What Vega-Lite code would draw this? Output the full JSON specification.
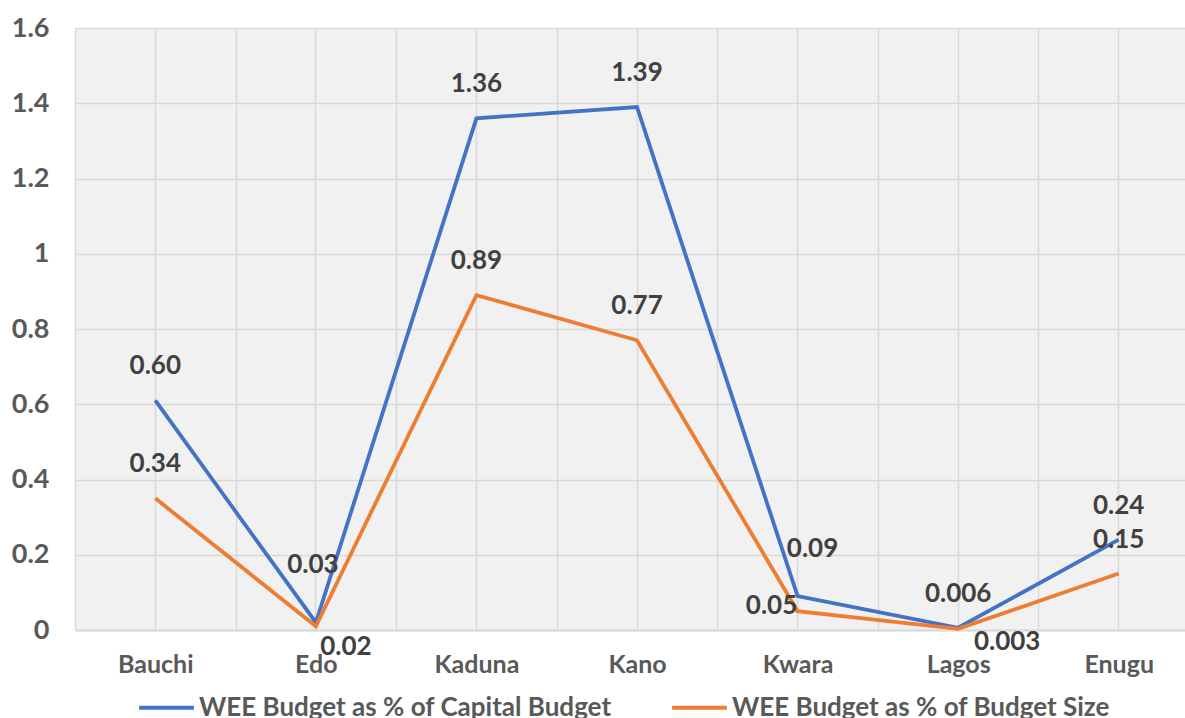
{
  "$schema": "https://vega.github.io/schema/vega-lite/v6.json",
  "autosize": "none",
  "width": 1110,
  "height": 602,
  "padding": {"left": 75, "top": 28, "right": 0, "bottom": 88},
  "background": "white",
  "config": {
    "view": {"fill": "#f1f1f1", "stroke": null},
    "font": "Lato",
    "axis": {"labelFont": "Lato", "labelFontWeight": "bold", "labelColor": "#595959", "labelFontSize": 25}
  },
  "data": {
    "values": [
      {"state": "Bauchi", "series": "WEE Budget as % of Capital Budget", "value": 0.61, "label": "0.60"},
      {"state": "Edo", "series": "WEE Budget as % of Capital Budget", "value": 0.02, "label": "0.03"},
      {"state": "Kaduna", "series": "WEE Budget as % of Capital Budget", "value": 1.36, "label": "1.36"},
      {"state": "Kano", "series": "WEE Budget as % of Capital Budget", "value": 1.39, "label": "1.39"},
      {"state": "Kwara", "series": "WEE Budget as % of Capital Budget", "value": 0.09, "label": "0.09"},
      {"state": "Lagos", "series": "WEE Budget as % of Capital Budget", "value": 0.006, "label": "0.006"},
      {"state": "Enugu", "series": "WEE Budget as % of Capital Budget", "value": 0.24, "label": "0.24"},
      {"state": "Bauchi", "series": "WEE Budget as % of Budget Size", "value": 0.35, "label": "0.34"},
      {"state": "Edo", "series": "WEE Budget as % of Budget Size", "value": 0.01, "label": "0.02"},
      {"state": "Kaduna", "series": "WEE Budget as % of Budget Size", "value": 0.89, "label": "0.89"},
      {"state": "Kano", "series": "WEE Budget as % of Budget Size", "value": 0.77, "label": "0.77"},
      {"state": "Kwara", "series": "WEE Budget as % of Budget Size", "value": 0.05, "label": "0.05"},
      {"state": "Lagos", "series": "WEE Budget as % of Budget Size", "value": 0.003, "label": "0.003"},
      {"state": "Enugu", "series": "WEE Budget as % of Budget Size", "value": 0.15, "label": "0.15"}
    ]
  },
  "encoding": {
    "x": {
      "field": "state", "type": "nominal",
      "sort": ["Bauchi", "Edo", "Kaduna", "Kano", "Kwara", "Lagos", "Enugu"],
      "bandPosition": 0.5,
      "scale": {"type": "band", "paddingInner": 0, "paddingOuter": 0, "range": [0, 1124]},
      "axis": null
    },
    "y": {
      "field": "value", "type": "quantitative",
      "scale": {"domain": [0, 1.6], "nice": false, "zero": true},
      "axis": {
        "title": null, "values": [0, 0.2, 0.4, 0.6, 0.8, 1, 1.2, 1.4, 1.6],
        "labelExpr": "format(datum.value, '~g')",
        "labelFontSize": 27,
        "domain": false, "ticks": false, "labelPadding": 26,
        "grid": true, "gridColor": "#d9d9d9", "gridWidth": 1.5
      }
    }
  },
  "layer": [
    {
      "mark": {"type": "line", "strokeWidth": 3.8, "strokeJoin": "miter"},
      "encoding": {
        "x": {
          "field": "state", "type": "nominal",
          "sort": ["Bauchi", "Edo", "Kaduna", "Kano", "Kwara", "Lagos", "Enugu"],
          "bandPosition": 0.5,
          "axis": {
            "title": null, "orient": "bottom", "labelAngle": 0, "labelPadding": 22,
            "ticks": false, "tickBand": "extent",
            "domain": true, "domainColor": "#d9d9d9", "domainWidth": 2,
            "grid": true, "gridColor": "#d9d9d9", "gridWidth": 1.5
          }
        },
        "color": {
          "field": "series", "type": "nominal",
          "scale": {
            "domain": ["WEE Budget as % of Capital Budget", "WEE Budget as % of Budget Size"],
            "range": ["#4472C4", "#ED7D31"]
          },
          "legend": {
            "title": null, "orient": "none", "direction": "horizontal",
            "legendX": 62, "legendY": 650,
            "symbolType": "stroke", "symbolSize": 3000, "symbolStrokeWidth": 4,
            "labelFont": "Lato", "labelFontWeight": "bold", "labelFontSize": 26, "labelColor": "#595959",
            "labelOffset": 3, "columnPadding": 52, "labelLimit": 600
          }
        }
      }
    },
    {
      "transform": [{"filter": "!((datum.state === 'Edo') || (datum.state === 'Kwara') || (datum.state === 'Lagos' && datum.series === 'WEE Budget as % of Budget Size'))"}],
      "mark": {"type": "text", "dy": -34, "fontSize": 26, "fontWeight": "bold", "font": "Lato", "color": "#404040", "baseline": "middle"},
      "encoding": {
        "x": {
          "field": "state", "type": "nominal",
          "sort": ["Bauchi", "Edo", "Kaduna", "Kano", "Kwara", "Lagos", "Enugu"],
          "bandPosition": 0.5,
          "axis": {"title": null, "orient": "bottom", "labels": false, "ticks": false, "domain": false, "grid": true, "gridColor": "#d9d9d9", "gridWidth": 1.5}
        },
        "text": {"field": "label"}
      }
    },
    {
      "transform": [{"filter": "datum.state === 'Edo' && datum.series === 'WEE Budget as % of Capital Budget'"}],
      "mark": {"type": "text", "dx": -3, "dy": -57, "fontSize": 26, "fontWeight": "bold", "font": "Lato", "color": "#404040", "baseline": "middle"},
      "encoding": {"text": {"field": "label"}}
    },
    {
      "transform": [{"filter": "datum.state === 'Edo' && datum.series === 'WEE Budget as % of Budget Size'"}],
      "mark": {"type": "text", "dx": 30, "dy": 21, "fontSize": 26, "fontWeight": "bold", "font": "Lato", "color": "#404040", "baseline": "middle"},
      "encoding": {"text": {"field": "label"}}
    },
    {
      "transform": [{"filter": "datum.state === 'Kwara' && datum.series === 'WEE Budget as % of Capital Budget'"}],
      "mark": {"type": "text", "dx": 15, "dy": -47, "fontSize": 26, "fontWeight": "bold", "font": "Lato", "color": "#404040", "baseline": "middle"},
      "encoding": {"text": {"field": "label"}}
    },
    {
      "transform": [{"filter": "datum.state === 'Kwara' && datum.series === 'WEE Budget as % of Budget Size'"}],
      "mark": {"type": "text", "dx": -26, "dy": -5, "fontSize": 26, "fontWeight": "bold", "font": "Lato", "color": "#404040", "baseline": "middle"},
      "encoding": {"text": {"field": "label"}}
    },
    {
      "transform": [{"filter": "datum.state === 'Lagos' && datum.series === 'WEE Budget as % of Budget Size'"}],
      "mark": {"type": "text", "dx": 49, "dy": 13, "fontSize": 26, "fontWeight": "bold", "font": "Lato", "color": "#404040", "baseline": "middle"},
      "encoding": {"text": {"field": "label"}}
    }
  ],
  "resolve": {"axis": {"x": "independent"}}
}
